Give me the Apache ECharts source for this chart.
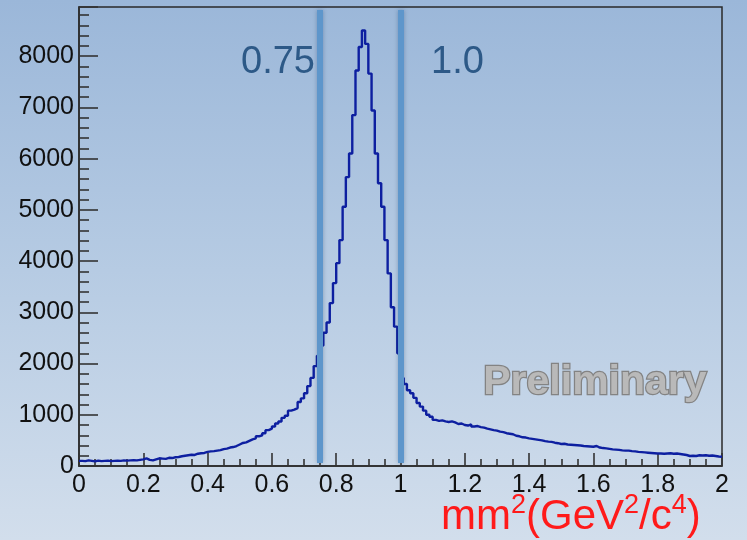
<!DOCTYPE html>
<html>
<head>
<meta charset="utf-8">
<script src="https://cdn.jsdelivr.net/npm/echarts@6/dist/echarts.min.js"></script>
<style>
html,body{margin:0;padding:0;}
#chart{width:747px;height:540px;}
</style>
</head>
<body>
<div id="chart"></div>
<script>
// Histogram: 200 bins of width 0.01 over [0, 2]
const binWidth = 0.01;
const xMin = 0, xMax = 2;
const counts = [
  100, 95, 110, 100, 90, 105, 95, 100, 105, 95,
  100, 105, 100, 110, 105, 110, 115, 110, 120, 130,
  150, 120, 110, 130, 150, 145, 140, 160, 155, 170,
  175, 190, 200, 210, 220, 215, 240, 250, 255, 275,
  285, 290, 300, 310, 330, 340, 360, 370, 390, 420,
  450, 460, 490, 520, 540, 580, 600, 640, 700, 730,
  770, 830, 870, 940, 980, 1080, 1100, 1130, 1250, 1320,
  1420, 1560, 1720, 1950, 2150, 2350, 2600, 2800, 3180, 3570,
  3960, 4410, 5060, 5640, 6100, 6850, 7720, 8180, 8500, 8240,
  7660, 6940, 6100, 5520, 5060, 4410, 3760, 3100, 2720, 2200,
  1720, 1600, 1480, 1420, 1330, 1230, 1160, 1080, 1000, 960,
  900, 880, 890, 870, 860, 870, 850, 820, 830, 800,
  790, 810, 770, 780, 760, 750, 730, 715, 700, 690,
  670, 660, 640, 630, 620, 590, 580, 560, 555, 540,
  530, 520, 510, 500, 485, 475, 470, 455, 445, 430,
  435, 420, 415, 410, 405, 400, 390, 385, 380, 375,
  390, 360, 350, 345, 335, 325, 320, 315, 305, 300,
  300, 290, 285, 275, 270, 265, 260, 255, 250, 245,
  245, 240, 245, 250, 240, 245, 235, 225, 215, 195,
  200, 195, 210, 205, 210, 200, 205, 195, 185, 180
];
const cutValues = [0.75, 1.0];
const cutLabels = ['0.75', '1.0'];
const yMax = 8960;

const histData = counts.map((c, i) => [+(xMin + i * binWidth).toFixed(2), c]);
histData.push([xMax, counts[counts.length - 1]]);

const chart = echarts.init(document.getElementById('chart'));
chart.setOption({
  animation: false,
  backgroundColor: new echarts.graphic.LinearGradient(0, 0, 0, 1, [
    { offset: 0, color: '#9bb7d9' },
    { offset: 0.5, color: '#b6cbe3' },
    { offset: 1, color: '#d2deec' }
  ]),
  grid: {
    left: 79, right: 25, top: 7, bottom: 74,
    show: true, borderColor: '#2a2a2a', borderWidth: 1.5,
    backgroundColor: 'transparent'
  },
  xAxis: {
    type: 'value', min: xMin, max: xMax, interval: 0.2,
    axisLine: { show: true, onZero: false, lineStyle: { color: '#2a2a2a', width: 1.5 } },
    axisTick: { show: true, inside: true, length: 13, lineStyle: { color: '#333333', width: 1.6 } },
    minorTick: { show: true, splitNumber: 4, length: 7, lineStyle: { color: '#333333', width: 1.6 } },
    axisLabel: { color: '#111', fontSize: 25, fontFamily: 'Liberation Sans, Arial', margin: 7 },
    splitLine: { show: false },
    minorSplitLine: { show: false }
  },
  yAxis: {
    type: 'value', min: 0, max: yMax, interval: 1000,
    axisLine: { show: true, lineStyle: { color: '#2a2a2a', width: 1.5 } },
    axisTick: { show: true, inside: true, length: 19, lineStyle: { color: '#333333', width: 1.6 } },
    minorTick: { show: true, splitNumber: 5, length: 10, lineStyle: { color: '#333333', width: 1.6 } },
    axisLabel: {
      color: '#111', fontSize: 25, fontFamily: 'Liberation Sans, Arial', margin: 5, showMaxLabel: false,
      formatter: v => String(v)
    },
    splitLine: { show: false },
    minorSplitLine: { show: false }
  },
  series: [{
    type: 'line',
    step: 'end',
    data: histData,
    symbol: 'none',
    z: 3,
    lineStyle: { color: '#0d1fa0', width: 2.4 },
    markLine: {
      silent: true,
      symbol: 'none',
      label: { show: false },
      lineStyle: { type: 'solid', color: '#5e96cb', width: 6, shadowColor: 'rgba(30,60,100,0.35)', shadowBlur: 4 },
      data: cutValues.map(v => [{ coord: [v, 60] }, { coord: [v, 8900] }])
    }
  }],
  graphic: [
    {
      type: 'text', left: 241, top: 44,
      style: { text: cutLabels[0], fill: '#2d5987', fontSize: 38, fontFamily: 'Liberation Sans, Arial' }
    },
    {
      type: 'text', left: 431, top: 44,
      style: { text: cutLabels[1], fill: '#2d5987', fontSize: 38, fontFamily: 'Liberation Sans, Arial' }
    },
    {
      type: 'text', left: 482, top: 361,
      style: {
        text: 'Preliminary',
        font: 'bold 41px "Liberation Sans", Arial',
        fill: '#b9b9b9',
        stroke: '#838383', lineWidth: 2.5,
        shadowColor: 'rgba(0,0,0,0.25)', shadowBlur: 3, shadowOffsetY: 1
      }
    },
    {
      type: 'text', left: 441, top: 492,
      style: {
        text: '{m|mm}{s|2}{m|(GeV}{s|2}{m|/c}{s|4}{m|)}',
        fill: '#ff1a1a',
        fontFamily: 'Liberation Sans, Arial',
        rich: {
          m: { fontSize: 42, lineHeight: 46, fill: '#ff1a1a', fontFamily: 'Liberation Sans, Arial', verticalAlign: 'bottom' },
          s: { fontSize: 27, lineHeight: 46, fill: '#ff1a1a', fontFamily: 'Liberation Sans, Arial', verticalAlign: 'top' }
        }
      }
    }
  ]
});
</script>
</body>
</html>
